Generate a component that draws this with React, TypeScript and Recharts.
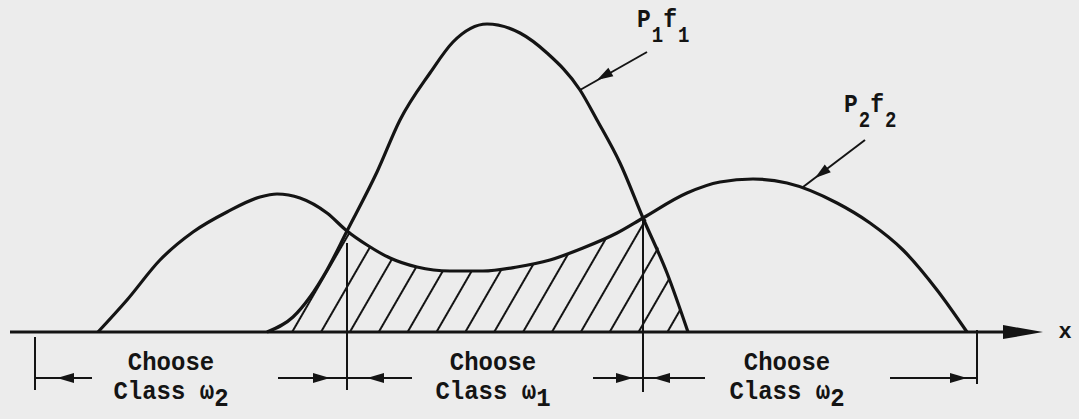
import {
  ComposedChart,
  Line,
  Area,
  XAxis,
  YAxis,
  ReferenceLine,
  ReferenceDot,
} from 'recharts';

// Two weighted class densities P1·f1 and P2·f2 along x (x in hundreds of units).
const p1f1 = [
  { x: 2.67, y: 0 },
  { x: 2.93, y: 0.15 },
  { x: 3.1, y: 0.35 },
  { x: 3.27, y: 0.62 },
  { x: 3.47, y: 1.01 },
  { x: 3.77, y: 1.6 },
  { x: 4.0, y: 2.12 },
  { x: 4.3, y: 2.59 },
  { x: 4.53, y: 2.9 },
  { x: 4.87, y: 3.08 },
  { x: 5.2, y: 2.99 },
  { x: 5.47, y: 2.79 },
  { x: 5.8, y: 2.42 },
  { x: 5.97, y: 2.12 },
  { x: 6.2, y: 1.69 },
  { x: 6.43, y: 1.14 },
  { x: 6.67, y: 0.59 },
  { x: 6.88, y: 0 },
];

const p2f2 = [
  { x: 0.98, y: 0 },
  { x: 1.27, y: 0.32 },
  { x: 1.6, y: 0.72 },
  { x: 1.93, y: 1.0 },
  { x: 2.27, y: 1.2 },
  { x: 2.6, y: 1.35 },
  { x: 2.77, y: 1.38 },
  { x: 3.0, y: 1.34 },
  { x: 3.27, y: 1.19 },
  { x: 3.47, y: 1.01 },
  { x: 3.67, y: 0.87 },
  { x: 3.9, y: 0.74 },
  { x: 4.17, y: 0.65 },
  { x: 4.5, y: 0.61 },
  { x: 4.83, y: 0.61 },
  { x: 5.17, y: 0.65 },
  { x: 5.5, y: 0.72 },
  { x: 5.83, y: 0.84 },
  { x: 6.17, y: 0.99 },
  { x: 6.43, y: 1.14 },
  { x: 6.87, y: 1.39 },
  { x: 7.2, y: 1.5 },
  { x: 7.53, y: 1.53 },
  { x: 7.87, y: 1.49 },
  { x: 8.37, y: 1.29 },
  { x: 8.7, y: 1.09 },
  { x: 9.03, y: 0.82 },
  { x: 9.37, y: 0.42 },
  { x: 9.67, y: 0 },
];

// where the two curves cross = decision boundaries
const crossings = [3.47, 6.43];

// outer ends of the "choose class" brackets
const bracketEnds = [0.35, 9.77];

const regionHeads = ['Choose', 'Choose', 'Choose'];
const regionClasses = ['Class \u03c9', 'Class \u03c9', 'Class \u03c9'];
const regionSubs = ['2', '1', '2'];

// error region: the smaller curve under P1·f1's support
const errorRegion = [
  ...p1f1.filter((d) => d.x <= crossings[0]),
  ...p2f2.filter((d) => d.x > crossings[0] && d.x < crossings[1]),
  ...p1f1.filter((d) => d.x >= crossings[1]),
];

const INK = '#141414';
const FONT = "'Liberation Mono', 'Courier New', monospace";

const ARROW_Y = -0.46;

// annotation segments [x1, y1, x2, y2]
const segments: [number, number, number, number][] = [
  [0.1, 0, 10.12, 0],
  [crossings[0], 0.89, crossings[0], -0.58],
  [crossings[1], 1.14, crossings[1], -0.6],
  [bracketEnds[0], -0.05, bracketEnds[0], -0.58],
  [bracketEnds[1], 0.02, bracketEnds[1], -0.52],
  [bracketEnds[0], ARROW_Y, 0.92, ARROW_Y],
  [2.78, ARROW_Y, crossings[0], ARROW_Y],
  [crossings[0], ARROW_Y, 4.12, ARROW_Y],
  [5.93, ARROW_Y, crossings[1], ARROW_Y],
  [crossings[1], ARROW_Y, 7.05, ARROW_Y],
  [8.9, ARROW_Y, bracketEnds[1], ARROW_Y],
  [6.47, 2.8, 5.8, 2.42],
  [8.65, 1.92, 8.03, 1.45],
];

// arrowheads: tip position, screen angle (deg), length, half width
const arrowheads = [
  { x: 10.43, y: 0, angle: 0, len: 40, w: 7 },
  { x: 0.57, y: ARROW_Y, angle: 180, len: 17, w: 5 },
  { x: 3.3, y: ARROW_Y, angle: 0, len: 17, w: 5 },
  { x: 3.67, y: ARROW_Y, angle: 180, len: 17, w: 5 },
  { x: 6.33, y: ARROW_Y, angle: 0, len: 17, w: 5 },
  { x: 6.53, y: ARROW_Y, angle: 180, len: 17, w: 5 },
  { x: 9.67, y: ARROW_Y, angle: 0, len: 17, w: 5 },
  { x: 5.97, y: 2.52, angle: 150, len: 16, w: 5 },
  { x: 8.15, y: 1.54, angle: 143, len: 16, w: 5 },
];

const regionCenters = [1.71, 4.93, 7.87];

function RegionLabel({ cx, cy, i }: { cx: number; cy: number; i: number }) {
  return (
    <g transform={`translate(${cx},${cy}) scale(1,1.1)`} fill={INK} fontFamily={FONT} fontWeight={700} fontSize={24}>
      <text textAnchor="middle">{regionHeads[i]}</text>
      <text y={26} textAnchor="middle">
        {regionClasses[i]}
        <tspan dy={7}>{regionSubs[i]}</tspan>
      </text>
    </g>
  );
}

function CurveLabel({ cx, cy, sub }: { cx: number; cy: number; sub: string }) {
  return (
    <g transform={`translate(${cx},${cy}) scale(1,1.15)`} fill={INK} fontFamily={FONT} fontWeight={700} fontSize={23}>
      <text>
        P
        <tspan dx={1} dy={13} fontSize={19}>{sub}</tspan>
        <tspan dx={0} dy={-13}>f</tspan>
        <tspan dx={1} dy={13} fontSize={19}>{sub}</tspan>
      </text>
    </g>
  );
}

export default function App() {
  return (
    <div style={{ position: 'absolute', left: 0, top: 0, width: 1079, height: 419, background: '#ececec' }}>
      <ComposedChart width={1079} height={419} margin={{ top: 0, right: 0, bottom: 0, left: 0 }}>
        <defs>
          <pattern id="hatch" patternUnits="userSpaceOnUse" width={25} height={25} patternTransform="rotate(30)">
            <line x1={19} y1={-1} x2={19} y2={26} stroke={INK} strokeWidth={2} />
          </pattern>
        </defs>
        <XAxis type="number" dataKey="x" domain={[0, 10.79]} allowDataOverflow hide />
        <YAxis type="number" domain={[-0.87, 3.32]} allowDataOverflow hide />

        <Area
          data={errorRegion}
          dataKey="y"
          type="monotone"
          baseValue={0}
          stroke="none"
          fill="url(#hatch)"
          fillOpacity={1}
          dot={false}
          activeDot={false}
          isAnimationActive={false}
        />

        {segments.map(([x1, y1, x2, y2], i) => (
          <ReferenceLine
            key={`s${i}`}
            segment={[{ x: x1, y: y1 }, { x: x2, y: y2 }]}
            stroke={INK}
            strokeWidth={i === 0 ? 3 : 2}
            ifOverflow="visible"
          />
        ))}

        <Line
          data={p2f2}
          dataKey="y"
          type="monotone"
          stroke={INK}
          strokeWidth={3.2}
          dot={false}
          activeDot={false}
          isAnimationActive={false}
        />
        <Line
          data={p1f1}
          dataKey="y"
          type="monotone"
          stroke={INK}
          strokeWidth={3.2}
          dot={false}
          activeDot={false}
          isAnimationActive={false}
        />

        {arrowheads.map((a, i) => (
          <ReferenceDot
            key={`a${i}`}
            x={a.x}
            y={a.y}
            r={1}
            ifOverflow="visible"
            shape={(p: any) => (
              <polygon
                points={`0,0 ${-a.len},${-a.w} ${-a.len},${a.w}`}
                transform={`translate(${p.cx},${p.cy}) rotate(${a.angle})`}
                fill={INK}
              />
            )}
          />
        ))}

        {regionCenters.map((c, i) => (
          <ReferenceDot
            key={`r${i}`}
            x={c}
            y={-0.38}
            r={1}
            ifOverflow="visible"
            shape={(p: any) => <RegionLabel cx={p.cx} cy={p.cy} i={i} />}
          />
        ))}

        <ReferenceDot
          x={6.37}
          y={3.05}
          r={1}
          ifOverflow="visible"
          shape={(p: any) => <CurveLabel cx={p.cx} cy={p.cy} sub="1" />}
        />
        <ReferenceDot
          x={8.44}
          y={2.2}
          r={1}
          ifOverflow="visible"
          shape={(p: any) => <CurveLabel cx={p.cx} cy={p.cy} sub="2" />}
        />
        <ReferenceDot
          x={10.65}
          y={-0.06}
          r={1}
          ifOverflow="visible"
          shape={(p: any) => (
            <text x={p.cx} y={p.cy} textAnchor="middle" fill={INK} fontFamily={FONT} fontWeight={700} fontSize={22}>
              x
            </text>
          )}
        />
      </ComposedChart>
    </div>
  );
}
